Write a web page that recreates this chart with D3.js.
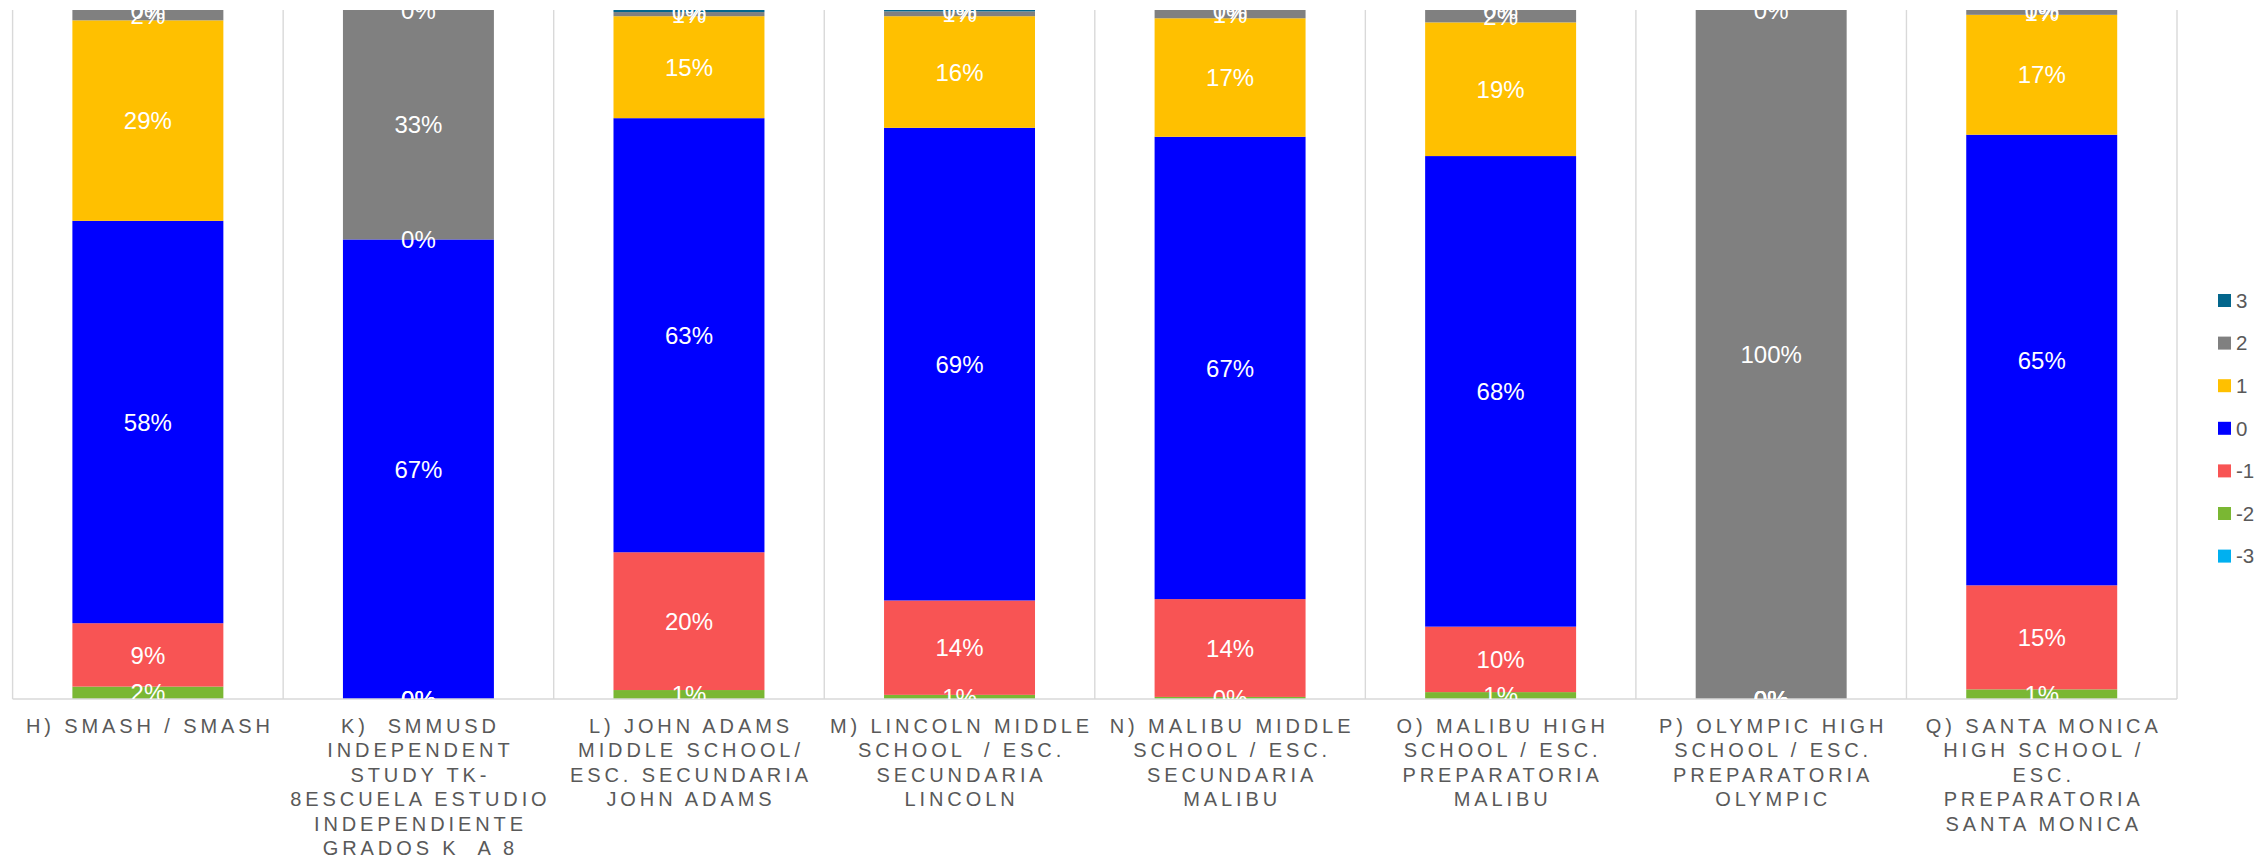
<!DOCTYPE html>
<html>
<head>
<meta charset="utf-8">
<script src="https://cdn.jsdelivr.net/npm/d3@7"></script>
<style>
  html, body { margin: 0; padding: 0; background: #fff; }
  svg { display: block; font-family: "Liberation Sans", Arial, sans-serif; }
  text { white-space: pre; }
</style>
</head>
<body>
<svg id="chart" width="2268" height="860"></svg>
<script>
// ---------- DATA ----------
const categories = [
  "H) SMASH / SMASH",
  "K)  SMMUSD INDEPENDENT STUDY TK-8ESCUELA ESTUDIO INDEPENDIENTE GRADOS K  A 8",
  "L) JOHN ADAMS MIDDLE SCHOOL/ ESC. SECUNDARIA JOHN ADAMS",
  "M) LINCOLN MIDDLE SCHOOL  / ESC. SECUNDARIA LINCOLN",
  "N) MALIBU MIDDLE SCHOOL / ESC. SECUNDARIA MALIBU",
  "O) MALIBU HIGH SCHOOL / ESC. PREPARATORIA MALIBU",
  "P) OLYMPIC HIGH SCHOOL / ESC. PREPARATORIA OLYMPIC",
  "Q) SANTA MONICA HIGH SCHOOL / ESC. PREPARATORIA SANTA MONICA"
];
const tickLabelLines = [
  ["H) SMASH / SMASH"],
  ["K)  SMMUSD", "INDEPENDENT", "STUDY TK-", "8ESCUELA ESTUDIO", "INDEPENDIENTE", "GRADOS K  A 8"],
  ["L) JOHN ADAMS", "MIDDLE SCHOOL/", "ESC. SECUNDARIA", "JOHN ADAMS"],
  ["M) LINCOLN MIDDLE", "SCHOOL  / ESC.", "SECUNDARIA", "LINCOLN"],
  ["N) MALIBU MIDDLE", "SCHOOL / ESC.", "SECUNDARIA", "MALIBU"],
  ["O) MALIBU HIGH", "SCHOOL / ESC.", "PREPARATORIA", "MALIBU"],
  ["P) OLYMPIC HIGH", "SCHOOL / ESC.", "PREPARATORIA", "OLYMPIC"],
  ["Q) SANTA MONICA", "HIGH SCHOOL /", "ESC.", "PREPARATORIA", "SANTA MONICA"]
];
const seriesNames = ["-3", "-2", "-1", "0", "1", "2", "3"];
const seriesMinus3 = [null, null, null, null, null, null, null, null];
const seriesMinus2 = [1.8, 0, 1.3, 0.6, 0.3, 1.0, 0, 1.4];
const seriesMinus1 = [9.2, 0, 20.0, 13.7, 14.2, 9.5, 0, 15.1];
const series0      = [58.4, 66.7, 63.0, 68.6, 67.1, 68.3, 0, 65.4];
const series1      = [29.1, 0, 14.8, 16.2, 17.2, 19.4, 0, 17.4];
const series2      = [1.5, 33.3, 0.6, 0.7, 1.2, 1.8, 100, 0.7];
const series3      = [0, 0, 0.3, 0.2, 0, 0, 0, 0];
const seriesColors = ["#00B0F0", "#7AB733", "#F85454", "#0000FF", "#FFC000", "#808080", "#03668C"];

// ---------- BUILD ----------
const seriesValues = [seriesMinus3, seriesMinus2, seriesMinus1, series0, series1, series2, series3];
const table = categories.map((c, i) => {
  const row = { cat: c, idx: i };
  seriesNames.forEach((s, j) => { row[s] = seriesValues[j][i] == null ? 0 : seriesValues[j][i]; });
  return row;
});
const stacked = d3.stack().keys(seriesNames)(table);

const svg = d3.select("#chart");
const plotLeft = 12.6, plotRight = 2177, plotTop = 10, plotBottom = 699;

const x = d3.scaleBand().domain(d3.range(categories.length))
  .range([plotLeft, plotRight]).paddingInner(0.442).paddingOuter(0.221);
const y = d3.scaleLinear().domain([0, 100]).range([plotBottom, plotTop]);
const color = d3.scaleOrdinal().domain(seriesNames).range(seriesColors);

const step = x.step();
const gridColor = "#D9D9D9";

// vertical gridlines at category boundaries
const bounds = d3.range(categories.length + 1).map(i => plotLeft + i * step);
svg.append("g").selectAll("line").data(bounds).join("line")
  .attr("x1", d => d).attr("x2", d => d)
  .attr("y1", plotTop).attr("y2", plotBottom)
  .attr("stroke", gridColor).attr("stroke-width", 1.4);

// bars
const barsG = svg.append("g");
stacked.forEach((layer, j) => {
  barsG.append("g").attr("fill", color(layer.key))
    .selectAll("rect").data(layer).join("rect")
    .attr("x", (d, i) => x(i))
    .attr("width", x.bandwidth())
    .attr("y", d => y(d[1]))
    .attr("height", d => Math.max(0, y(d[0]) - y(d[1])));
});

// x axis line
svg.append("line")
  .attr("x1", plotLeft).attr("x2", plotRight)
  .attr("y1", plotBottom).attr("y2", plotBottom)
  .attr("stroke", gridColor).attr("stroke-width", 1.4);

// data labels (clipped to plot area)
svg.append("clipPath").attr("id", "plotClip").append("rect")
  .attr("x", plotLeft).attr("y", plotTop)
  .attr("width", plotRight - plotLeft).attr("height", plotBottom - plotTop);
const labelsG = svg.append("g").attr("clip-path", "url(#plotClip)");
stacked.forEach((layer, j) => {
  const vals = seriesValues[j];
  labelsG.append("g").selectAll("text")
    .data(layer.map((d, i) => ({ d, i, v: vals[i] })).filter(o => o.v != null))
    .join("text")
    .attr("x", o => x(o.i) + x.bandwidth() / 2)
    .attr("y", o => (y(o.d[0]) + y(o.d[1])) / 2)
    .attr("dy", "0.36em")
    .attr("text-anchor", "middle")
    .attr("fill", "#FFFFFF")
    .attr("font-size", 24)
    .text(o => Math.round(o.v) + "%");
});

// category axis labels
const tickG = svg.append("g");
tickLabelLines.forEach((lines, i) => {
  const t = tickG.append("text")
    .attr("text-anchor", "middle")
    .attr("fill", "#595959")
    .attr("font-size", 20)
    .attr("letter-spacing", "3.9px");
  lines.forEach((ln, k) => {
    t.append("tspan")
      .attr("x", x(i) + x.bandwidth() / 2 + 2)
      .attr("y", 732.5 + k * 24.5)
      .text(ln);
  });
});

// legend (top-to-bottom: 3 .. -3)
const legendOrder = seriesNames.slice().reverse();
const legendG = svg.append("g");
legendOrder.forEach((s, k) => {
  const cy = 300.5 + k * 42.6;
  legendG.append("rect")
    .attr("x", 2218).attr("y", cy - 6.5)
    .attr("width", 13).attr("height", 13)
    .attr("fill", color(s));
  legendG.append("text")
    .attr("x", 2236).attr("y", cy)
    .attr("dy", "0.36em")
    .attr("fill", "#595959")
    .attr("font-size", 20.5)
    .text(s);
});
</script>
</body>
</html>
